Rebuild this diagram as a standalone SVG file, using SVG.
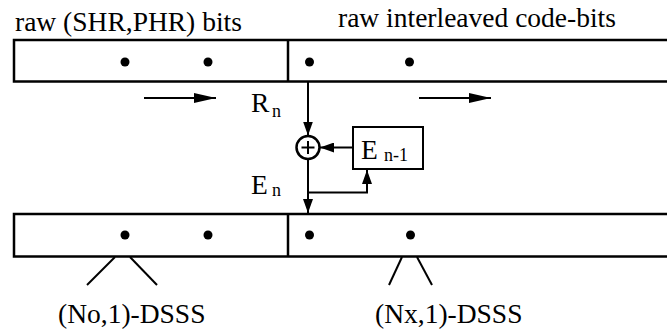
<svg xmlns="http://www.w3.org/2000/svg" width="667" height="330" viewBox="0 0 667 330">
<defs>
<style>
text{font-family:'Liberation Serif','Times New Roman','DejaVu Serif',serif;fill:#000}
.t{font-size:27.5px}
.s{font-size:18px}
.box{fill:none;stroke:#000;stroke-width:2.5}
.ln{fill:none;stroke:#000;stroke-width:2}
.dot{fill:#000}
</style>
<marker id="ah" viewBox="0 0 22 10" refX="22" refY="5" markerWidth="22" markerHeight="10" markerUnits="userSpaceOnUse" orient="auto"><path d="M0,0 L22,5 L0,10 Z" fill="#000"/></marker>
<marker id="as" viewBox="0 0 14 10" refX="14" refY="5" markerWidth="14" markerHeight="10" markerUnits="userSpaceOnUse" orient="auto"><path d="M0,0 L14,5 L0,10 Z" fill="#000"/></marker>
</defs>
<g id="label-top-left"><text class="t" x="15" y="31">raw (SHR,PHR) bits</text></g>
<g id="label-top-right"><text class="t" x="338" y="27">raw interleaved code-bits</text></g>
<g id="top-buffer">
<rect class="box" x="14" y="40" width="670" height="41.5"/>
<line class="box" x1="288" y1="40" x2="288" y2="81.5"/>
<circle class="dot" cx="125" cy="62" r="4.5"/>
<circle class="dot" cx="208" cy="62" r="4.5"/>
<circle class="dot" cx="309.5" cy="62" r="4.5"/>
<circle class="dot" cx="409.5" cy="62" r="4.5"/>
</g>
<g id="bottom-buffer">
<rect class="box" x="14" y="214" width="670" height="42.5"/>
<line class="box" x1="288" y1="214" x2="288" y2="256.5"/>
<circle class="dot" cx="125" cy="235" r="4.5"/>
<circle class="dot" cx="208" cy="235" r="4.5"/>
<circle class="dot" cx="309.5" cy="235" r="4.5"/>
<circle class="dot" cx="410.5" cy="235" r="4.5"/>
</g>
<g id="xor">
<circle cx="308" cy="147.5" r="11.5" fill="#fff" stroke="#000" stroke-width="2.5"/>
<line class="ln" x1="301.5" y1="147.5" x2="314.5" y2="147.5"/>
<line class="ln" x1="308" y1="141" x2="308" y2="154"/>
</g>
<g id="delay">
<rect x="353" y="127" width="70" height="42" fill="none" stroke="#000" stroke-width="2"/>
<text class="t" x="361" y="159">E</text><text class="s" x="384" y="161">n-1</text>
</g>
<g id="label-rn"><text class="t" x="251" y="112">R</text><text class="s" x="272" y="117">n</text></g>
<g id="label-en"><text class="t" x="251" y="194">E</text><text class="s" x="272" y="196">n</text></g>
<g id="label-no"><text class="t" x="58" y="323">(No,1)-DSSS</text></g>
<g id="label-nx"><text class="t" x="375" y="323">(Nx,1)-DSSS</text></g>
<g id="connectors">
<line class="ln" x1="144" y1="98" x2="216" y2="98" marker-end="url(#ah)"/>
<line class="ln" x1="419" y1="98" x2="491" y2="98" marker-end="url(#ah)"/>
<line class="ln" x1="308" y1="81.5" x2="308" y2="135.5" marker-end="url(#as)"/>
<line class="ln" x1="353" y1="147.5" x2="320" y2="147.5" marker-end="url(#as)"/>
<line class="ln" x1="308" y1="159.5" x2="308" y2="213" marker-end="url(#as)"/>
<polyline class="ln" points="308,192.5 367,192.5 367,170" marker-end="url(#as)"/>
<line class="ln" x1="115" y1="257" x2="87" y2="285"/>
<line class="ln" x1="130" y1="257" x2="157" y2="285"/>
<line class="ln" x1="402" y1="257" x2="389" y2="285"/>
<line class="ln" x1="417" y1="257" x2="432" y2="285"/>
</g>
</svg>
